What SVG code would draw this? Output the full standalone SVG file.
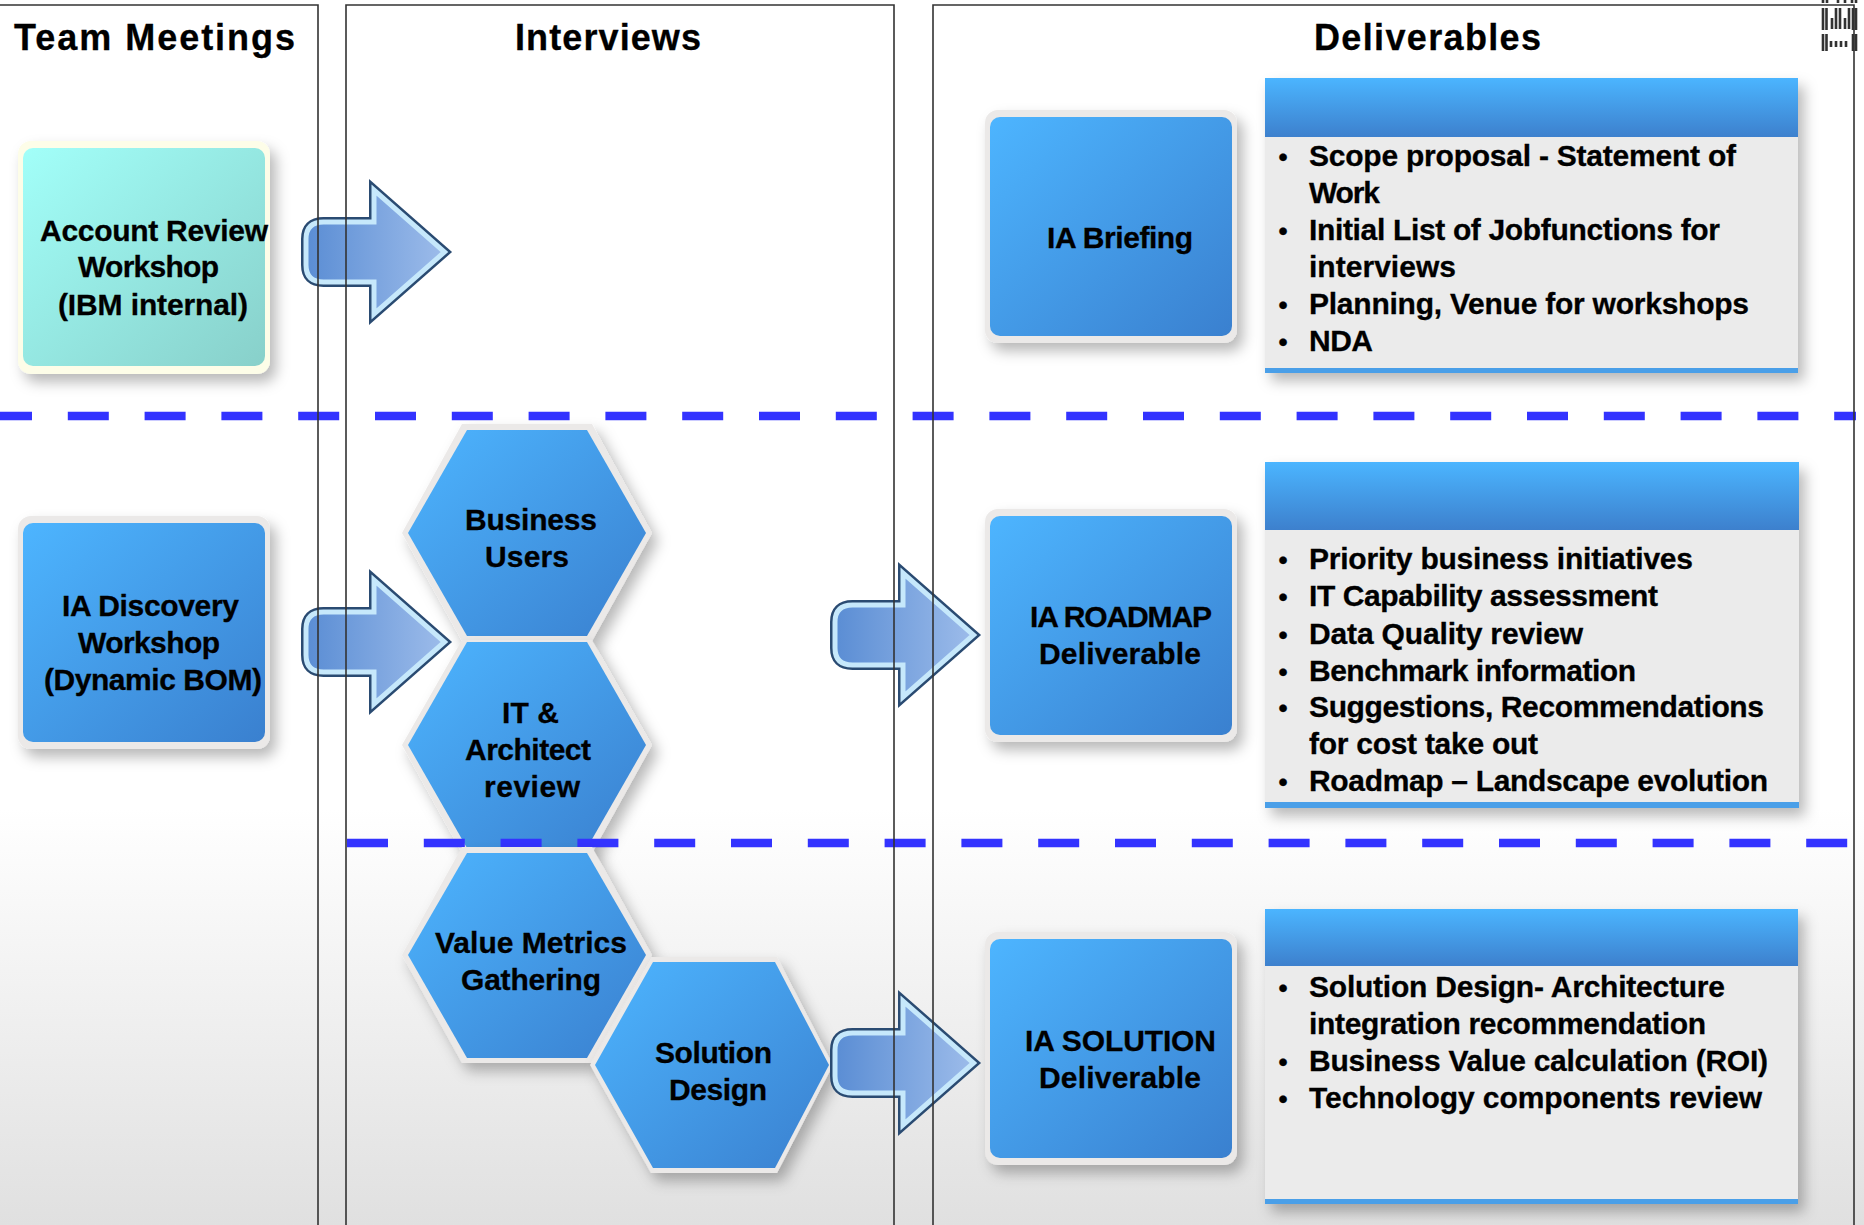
<svg xmlns="http://www.w3.org/2000/svg" width="1864" height="1225" viewBox="0 0 1864 1225">
<style>
text{font-family:"Liberation Sans",Arial,sans-serif;font-weight:700;fill:#000;font-size:30px;stroke:#000;stroke-width:.3}
.h{font-size:36px}
.c{text-anchor:middle}
.col{fill:none;stroke:#333;stroke-width:1.6}
.dash{fill:none;stroke:#3333ff;stroke-width:8.5;stroke-dasharray:41 35.8}
.blueO{fill:#ebe9e8;filter:url(#sh)}
.blueI{fill:url(#blue)}
.hd{fill:url(#hdg)}
.body{fill:#ebebeb;filter:url(#sh)}
.strip{fill:#4a9fe8}
.bu{font-size:26px}
</style>
<defs>
<linearGradient id="bg" x1="0" y1="0" x2="0" y2="1"><stop offset="0" stop-color="#fff"/><stop offset=".66" stop-color="#fff"/><stop offset="1" stop-color="#e0e0e0"/></linearGradient>
<linearGradient id="blue" x1="0" y1="0" x2="1" y2="1"><stop offset="0" stop-color="#4db5ff"/><stop offset="1" stop-color="#3a80cf"/></linearGradient>
<linearGradient id="cyan" x1="0" y1="0" x2="1" y2="1"><stop offset="0" stop-color="#a2fff9"/><stop offset="1" stop-color="#88d0ca"/></linearGradient>
<linearGradient id="hdg" x1="0" y1="0" x2="0" y2="1"><stop offset="0" stop-color="#4bb5ff"/><stop offset="1" stop-color="#3d80cd"/></linearGradient>
<linearGradient id="arr" x1="0" y1="0" x2="1" y2="0"><stop offset="0" stop-color="#5a8dd4"/><stop offset="1" stop-color="#9dbcea"/></linearGradient>
<filter id="sh" x="-20%" y="-20%" width="150%" height="150%"><feDropShadow dx="6" dy="8" stdDeviation="7" flood-color="#000" flood-opacity=".28"/></filter>
<filter id="soft" x="-10%" y="-10%" width="120%" height="120%"><feGaussianBlur stdDeviation=".6"/></filter>
<path id="arrow" d="M73.500 11V43H23Q5.500 43 5.500 60V86Q5.500 103 23 103H73.500V135L144 73Z"/>
<g id="arrowShape"><use href="#arrow" fill="url(#arr)" stroke="#2a4b72" stroke-width="10" stroke-miterlimit="8"/><use href="#arrow" fill="url(#arr)" stroke="#c6e8fb" stroke-width="5" stroke-miterlimit="8"/></g>
</defs>
<rect width="1864" height="1225" fill="url(#bg)"/>

<g id="node-account-review">
<rect x="18" y="141" width="252" height="233" rx="13" fill="#fdfde8" filter="url(#sh)"/>
<rect x="23" y="148" width="242" height="218" rx="10" fill="url(#cyan)"/>
<text x="154" y="241" class="c" textLength="228">Account Review</text>
<text x="148.500" y="277" class="c" textLength="141">Workshop</text>
<text x="153" y="315" class="c" textLength="190">(IBM internal)</text>
</g>
<g id="node-ia-discovery">
<rect x="18" y="516" width="252" height="233" rx="13" class="blueO"/>
<rect x="23" y="523" width="242" height="219" rx="10" class="blueI"/>
<text x="150.500" y="616" class="c" textLength="177">IA Discovery</text>
<text x="149" y="653" class="c" textLength="142">Workshop</text>
<text x="153" y="690" class="c" textLength="218">(Dynamic BOM)</text>
</g>

<g id="node-business-users">
<polygon points="402,533 462,424 592,424 652,533 592,641 462,641" class="blueO"/>
<polygon points="408,533 467,430 587,430 646,533 587,636 467,636" class="blueI"/>
<text x="531" y="530" class="c" textLength="132">Business</text>
<text x="527" y="567" class="c" textLength="84">Users</text>
</g>
<g id="node-it-architect">
<polygon points="402,745 462,640 592,640 652,745 592,853 462,853" class="blueO"/>
<polygon points="408,745 467,642 587,642 646,745 587,848 467,848" class="blueI"/>
<text x="530.500" y="723" class="c" textLength="57">IT &amp;</text>
<text x="528" y="760" class="c" textLength="126">Architect</text>
<text x="532" y="797" class="c" textLength="96">review</text>
</g>

<g id="separators">
<line x1="-9" y1="416" x2="1856" y2="416" class="dash"/>
<line x1="347" y1="843" x2="1849" y2="843" class="dash"/>
</g>

<g id="node-value-metrics">
<polygon points="402,955 462,847 592,847 652,955 592,1063 462,1063" class="blueO"/>
<polygon points="408,955 467,853 587,853 646,955 587,1058 467,1058" class="blueI"/>
<text x="531" y="953" class="c" textLength="192">Value Metrics</text>
<text x="531" y="990" class="c" textLength="140">Gathering</text>
</g>
<g id="node-solution-design">
<polygon points="590,1065 651,957 777,957 833,1065 777,1173 651,1173" class="blueO"/>
<polygon points="595,1065 653,962 775,962 829,1065 775,1168 653,1168" class="blueI"/>
<text x="713.500" y="1063" class="c" textLength="117">Solution</text>
<text x="718" y="1100" class="c" textLength="98">Design</text>
</g>

<g id="node-ia-briefing">
<rect x="985" y="110" width="252" height="233" rx="13" class="blueO"/>
<rect x="990" y="117" width="242" height="219" rx="10" class="blueI"/>
<text x="1120" y="248" class="c" textLength="146">IA Briefing</text>
</g>
<g id="node-ia-roadmap">
<rect x="985" y="509" width="252" height="233" rx="13" class="blueO"/>
<rect x="990" y="516" width="242" height="219" rx="10" class="blueI"/>
<text x="1121" y="627" class="c" textLength="182">IA ROADMAP</text>
<text x="1120" y="664" class="c" textLength="162">Deliverable</text>
</g>
<g id="node-ia-solution">
<rect x="985" y="932" width="252" height="233" rx="13" class="blueO"/>
<rect x="990" y="939" width="242" height="219" rx="10" class="blueI"/>
<text x="1120.500" y="1051" class="c" textLength="191">IA SOLUTION</text>
<text x="1120" y="1088" class="c" textLength="162">Deliverable</text>
</g>

<g id="node-list-briefing">
<rect x="1265" y="78" width="533" height="295" class="body"/>
<rect x="1265" y="78" width="533" height="59" class="hd"/>
<rect x="1265" y="368" width="533" height="5" class="strip"/>
<text x="1278.500" y="166" class="bu">•</text><text x="1309" y="166" textLength="427">Scope proposal - Statement of</text>
<text x="1309" y="203" textLength="71">Work</text>
<text x="1278.500" y="240" class="bu">•</text><text x="1309" y="240" textLength="411">Initial List of Jobfunctions for</text>
<text x="1309" y="277" textLength="147">interviews</text>
<text x="1278.500" y="314" class="bu">•</text><text x="1309" y="314" textLength="440">Planning, Venue for workshops</text>
<text x="1278.500" y="351" class="bu">•</text><text x="1309" y="351" textLength="64">NDA</text>
</g>
<g id="node-list-roadmap">
<rect x="1265" y="462" width="534" height="346" class="body"/>
<rect x="1265" y="462" width="534" height="68" class="hd"/>
<rect x="1265" y="802" width="534" height="6" class="strip"/>
<text x="1278.500" y="569" class="bu">•</text><text x="1309" y="569" textLength="384">Priority business initiatives</text>
<text x="1278.500" y="606" class="bu">•</text><text x="1309" y="606" textLength="349">IT Capability assessment</text>
<text x="1278.500" y="644" class="bu">•</text><text x="1309" y="644" textLength="274">Data Quality review</text>
<text x="1278.500" y="681" class="bu">•</text><text x="1309" y="681" textLength="327">Benchmark information</text>
<text x="1278.500" y="717" class="bu">•</text><text x="1309" y="717" textLength="455">Suggestions, Recommendations</text>
<text x="1309" y="754" textLength="229">for cost take out</text>
<text x="1278.500" y="791" class="bu">•</text><text x="1309" y="791" textLength="459">Roadmap – Landscape evolution</text>
</g>
<g id="node-list-solution">
<rect x="1265" y="909" width="533" height="295" class="body"/>
<rect x="1265" y="909" width="533" height="57" class="hd"/>
<rect x="1265" y="1199" width="533" height="5" class="strip"/>
<text x="1278.500" y="997" class="bu">•</text><text x="1309" y="997" textLength="416">Solution Design- Architecture</text>
<text x="1309" y="1034" textLength="397">integration recommendation</text>
<text x="1278.500" y="1071" class="bu">•</text><text x="1309" y="1071" textLength="459">Business Value calculation (ROI)</text>
<text x="1278.500" y="1108" class="bu">•</text><text x="1309" y="1108" textLength="453">Technology components review</text>
</g>

<g id="connectors">
<use href="#arrowShape" x="300.500" y="179"/>
<use href="#arrowShape" x="300.500" y="569"/>
<use href="#arrowShape" x="829.500" y="562"/>
<use href="#arrowShape" x="829.500" y="990"/>
</g>

<g id="columns">
<path class="col" d="M0 5H318V1225"/>
<path class="col" d="M346 1225V5H894V1225"/>
<path class="col" d="M933 1225V5H1854V1225"/>
</g>

<g id="headings">
<text x="14" y="50" class="h" textLength="281">Team Meetings</text>
<text x="515" y="50" class="h" textLength="186">Interviews</text>
<text x="1314" y="50" class="h" textLength="227">Deliverables</text>
</g>

<g id="logo" fill="none" stroke="#333" stroke-width="2.6" filter="url(#soft)">
<path d="M1823 0v3M1827 0v3M1838 0v3M1845 0v3M1852 0v3M1856 0v3"/>
<path d="M1823 8v22M1826.500 8v22M1832 18v11M1836 8v21M1840 8v21M1845 18v11M1849 8v21M1853 8v22M1856 8v22"/>
<path d="M1823 34v17M1826.500 34v17M1853 34v17M1856 34v17"/>
<path d="M1831 41v6M1836 41v6M1841 41v6M1846 41v6"/>
</g>
</svg>
